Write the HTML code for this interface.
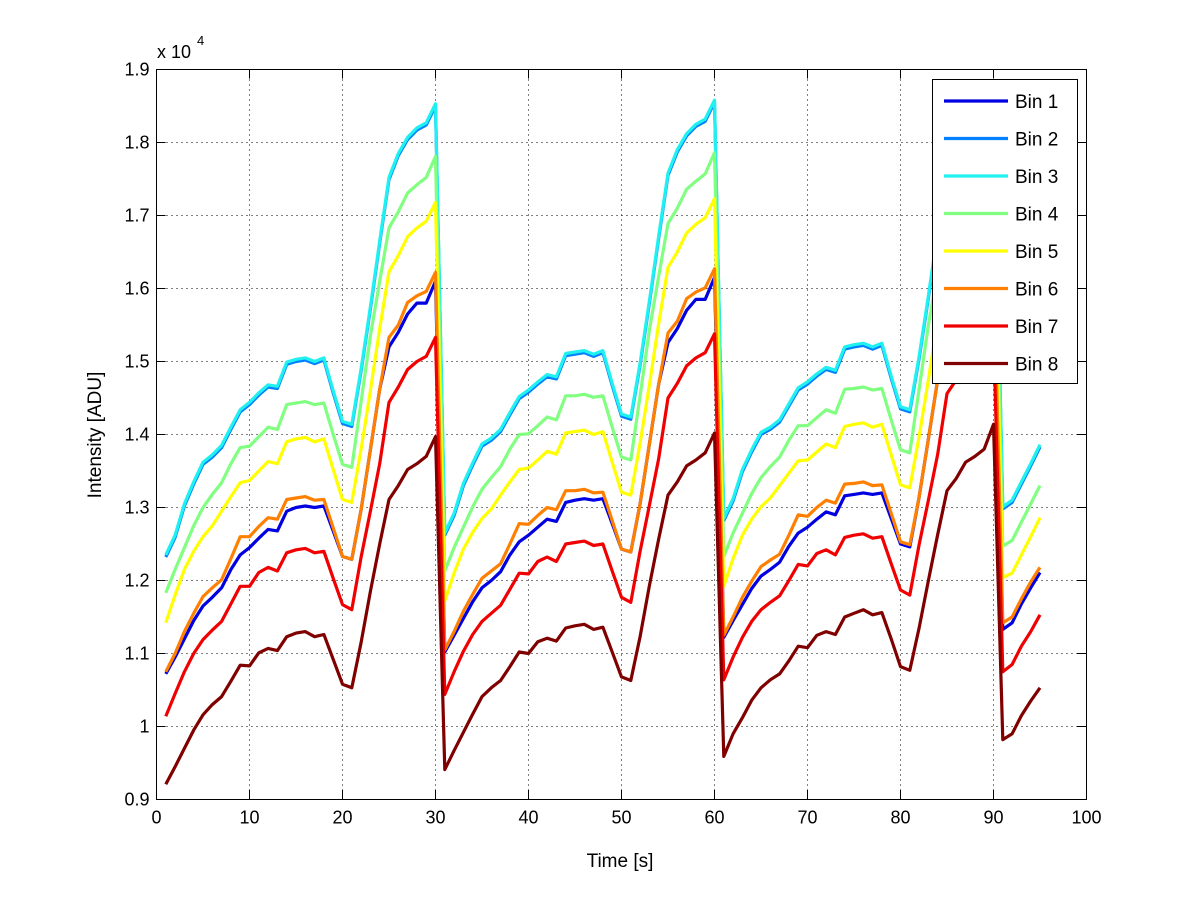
<!DOCTYPE html>
<html><head><meta charset="utf-8"><style>
body{margin:0;background:#fff;}
svg{display:block;font-family:"Liberation Sans",Arial,sans-serif;}
</style></head><body>
<svg id="chart" width="1200" height="901" viewBox="0 0 1200 901">
<rect x="0" y="0" width="1200" height="901" fill="#fff"/>
<g id="grid"></g>
<g id="series"></g>
<rect x="156.5" y="69.5" width="930" height="730" fill="none" stroke="#000" stroke-width="1"/>
<g id="axes"></g>
<text x="157" y="58" font-size="18">x 10</text>
<text x="197" y="45" font-size="13">4</text>
<text x="620" y="867" font-size="19" text-anchor="middle">Time [s]</text>
<text transform="translate(101,435) rotate(-90)" font-size="19" text-anchor="middle">Intensity [ADU]</text>
<g id="legend"></g>
</svg>
<script>
const xTicks=[0,10,20,30,40,50,60,70,80,90,100];
const yTicks=[0.9,1.0,1.1,1.2,1.3,1.4,1.5,1.6,1.7,1.8,1.9];
const yTickLabels=["0.9","1","1.1","1.2","1.3","1.4","1.5","1.6","1.7","1.8","1.9"];
const binNames=["Bin 1","Bin 2","Bin 3","Bin 4","Bin 5","Bin 6","Bin 7","Bin 8"];
const binColors=["#0000e0","#0080ff","#20f0f0","#80ff80","#ffff00","#ff8000","#f00000","#800000"];
const bin1=[1.072,1.095,1.12,1.145,1.165,1.177,1.19,1.215,1.235,1.245,1.258,1.27,1.268,1.295,1.30,1.302,1.30,1.302,1.268,1.233,1.229,1.297,1.379,1.462,1.52,1.54,1.565,1.58,1.58,1.61,
1.102,1.125,1.148,1.171,1.19,1.20,1.212,1.235,1.253,1.262,1.273,1.284,1.281,1.307,1.31,1.312,1.31,1.312,1.278,1.243,1.239,1.305,1.387,1.469,1.526,1.545,1.57,1.585,1.585,1.615,
1.122,1.145,1.167,1.189,1.206,1.215,1.225,1.247,1.265,1.273,1.284,1.294,1.29,1.316,1.318,1.32,1.318,1.32,1.285,1.25,1.246,1.314,1.394,1.475,1.532,1.55,1.575,1.59,1.59,1.62,
1.133,1.142,1.168,1.19,1.211];
const bin2=[1.232,1.259,1.302,1.332,1.359,1.369,1.382,1.407,1.431,1.441,1.454,1.465,1.463,1.496,1.50,1.502,1.497,1.502,1.457,1.415,1.411,1.487,1.572,1.662,1.749,1.782,1.804,1.817,1.824,1.85,
1.262,1.289,1.33,1.358,1.384,1.392,1.404,1.427,1.449,1.458,1.469,1.479,1.476,1.508,1.51,1.512,1.507,1.512,1.467,1.425,1.421,1.495,1.58,1.669,1.755,1.787,1.809,1.822,1.829,1.855,
1.282,1.309,1.349,1.376,1.40,1.407,1.417,1.439,1.461,1.469,1.48,1.489,1.485,1.517,1.52,1.522,1.517,1.522,1.477,1.435,1.431,1.504,1.587,1.675,1.761,1.792,1.814,1.827,1.834,1.86,
1.298,1.307,1.332,1.357,1.383];
const bin3=[1.235,1.262,1.305,1.335,1.362,1.372,1.385,1.41,1.434,1.444,1.457,1.468,1.466,1.499,1.503,1.505,1.500,1.505,1.46,1.418,1.414,1.49,1.575,1.665,1.752,1.785,1.807,1.82,1.827,1.853,
1.265,1.292,1.333,1.361,1.387,1.395,1.407,1.43,1.452,1.461,1.472,1.482,1.479,1.511,1.513,1.515,1.51,1.515,1.47,1.428,1.424,1.498,1.583,1.672,1.758,1.79,1.812,1.825,1.832,1.858,
1.285,1.312,1.352,1.379,1.403,1.41,1.42,1.442,1.464,1.472,1.483,1.492,1.488,1.52,1.523,1.525,1.52,1.525,1.48,1.438,1.434,1.507,1.59,1.678,1.764,1.795,1.817,1.83,1.837,1.863,
1.301,1.31,1.335,1.36,1.386];
const bin4=[1.183,1.215,1.245,1.275,1.30,1.318,1.334,1.36,1.382,1.384,1.397,1.41,1.407,1.441,1.443,1.445,1.441,1.443,1.40,1.359,1.355,1.445,1.535,1.61,1.683,1.705,1.731,1.742,1.752,1.781,
1.213,1.245,1.273,1.301,1.325,1.341,1.356,1.38,1.40,1.401,1.412,1.424,1.42,1.453,1.453,1.455,1.451,1.453,1.41,1.369,1.365,1.453,1.543,1.617,1.689,1.71,1.736,1.747,1.757,1.786,
1.233,1.265,1.292,1.319,1.341,1.356,1.369,1.392,1.412,1.412,1.423,1.434,1.429,1.462,1.463,1.465,1.461,1.463,1.42,1.379,1.375,1.462,1.55,1.623,1.695,1.715,1.741,1.752,1.762,1.791,
1.247,1.255,1.28,1.305,1.33];
const bin5=[1.142,1.18,1.215,1.24,1.26,1.275,1.295,1.315,1.334,1.337,1.35,1.363,1.36,1.39,1.394,1.396,1.39,1.394,1.352,1.311,1.307,1.38,1.46,1.545,1.623,1.645,1.671,1.683,1.692,1.718,
1.172,1.21,1.243,1.266,1.285,1.298,1.317,1.335,1.352,1.354,1.365,1.377,1.373,1.402,1.404,1.406,1.40,1.404,1.362,1.321,1.317,1.388,1.468,1.552,1.629,1.65,1.676,1.688,1.697,1.723,
1.192,1.23,1.262,1.284,1.301,1.313,1.33,1.347,1.364,1.365,1.376,1.387,1.382,1.411,1.414,1.416,1.41,1.414,1.372,1.331,1.327,1.397,1.475,1.558,1.635,1.655,1.681,1.693,1.702,1.728,
1.204,1.21,1.235,1.26,1.286];
const bin6=[1.075,1.10,1.13,1.155,1.178,1.19,1.201,1.23,1.26,1.26,1.274,1.286,1.284,1.311,1.313,1.315,1.31,1.311,1.272,1.233,1.229,1.297,1.379,1.462,1.533,1.55,1.581,1.59,1.596,1.622,
1.105,1.13,1.158,1.181,1.203,1.213,1.223,1.25,1.278,1.277,1.289,1.30,1.297,1.323,1.323,1.325,1.32,1.321,1.282,1.243,1.239,1.305,1.387,1.469,1.539,1.555,1.586,1.595,1.601,1.627,
1.125,1.15,1.177,1.199,1.219,1.228,1.236,1.262,1.29,1.288,1.30,1.31,1.306,1.332,1.333,1.335,1.33,1.331,1.292,1.253,1.249,1.314,1.394,1.475,1.545,1.56,1.591,1.60,1.606,1.632,
1.142,1.15,1.175,1.198,1.218];
const bin7=[1.014,1.045,1.075,1.10,1.119,1.132,1.144,1.168,1.192,1.192,1.211,1.218,1.213,1.238,1.242,1.244,1.238,1.24,1.203,1.167,1.160,1.232,1.295,1.36,1.444,1.465,1.489,1.50,1.507,1.533,
1.044,1.075,1.103,1.126,1.144,1.155,1.166,1.188,1.21,1.209,1.226,1.232,1.226,1.25,1.252,1.254,1.248,1.25,1.213,1.177,1.17,1.24,1.303,1.367,1.45,1.47,1.494,1.505,1.512,1.538,
1.064,1.095,1.122,1.144,1.16,1.17,1.179,1.20,1.222,1.22,1.237,1.242,1.235,1.259,1.262,1.264,1.258,1.26,1.223,1.187,1.18,1.249,1.31,1.373,1.456,1.475,1.499,1.51,1.517,1.543,
1.075,1.085,1.11,1.13,1.153];
const bin8=[0.921,0.945,0.97,0.995,1.016,1.03,1.041,1.062,1.084,1.083,1.101,1.107,1.104,1.123,1.128,1.130,1.123,1.126,1.092,1.058,1.053,1.115,1.185,1.25,1.311,1.33,1.352,1.36,1.37,1.397,
0.941,0.967,0.992,1.017,1.041,1.053,1.063,1.082,1.102,1.10,1.116,1.121,1.117,1.135,1.138,1.14,1.133,1.136,1.102,1.068,1.063,1.123,1.193,1.257,1.317,1.335,1.357,1.365,1.375,1.402,
0.959,0.99,1.012,1.036,1.053,1.064,1.072,1.09,1.11,1.108,1.125,1.13,1.126,1.15,1.155,1.16,1.153,1.156,1.12,1.082,1.077,1.135,1.2,1.263,1.323,1.34,1.362,1.37,1.38,1.414,
0.982,0.99,1.015,1.035,1.053];
const allBins=[bin1,bin2,bin3,bin4,bin5,bin6,bin7,bin8];

const NS="http://www.w3.org/2000/svg";
const L=156.5,R=1086.5,T=69.5,B=799.5;
function sx(v){return L+(v-0)/(100-0)*(R-L);}
function sy(v){return B-(v-0.9)/(1.9-0.9)*(B-T);}
function mk(tag,attrs,parent){const e=document.createElementNS(NS,tag);for(const k in attrs)e.setAttribute(k,attrs[k]);parent.appendChild(e);return e;}
const grid=document.getElementById('grid'),axes=document.getElementById('axes'),ser=document.getElementById('series'),leg=document.getElementById('legend');
xTicks.forEach((t,i)=>{
  const x=sx(t);
  if(i>0&&i<xTicks.length-1){const g=mk('line',{x1:x,x2:x,y1:T,y2:B,stroke:'#000','stroke-width':1,'stroke-dasharray':'1,4'},grid);
  
  }
  mk('line',{x1:x,x2:x,y1:B,y2:B-9,stroke:'#000'},axes);
  mk('line',{x1:x,x2:x,y1:T,y2:T+9,stroke:'#000'},axes);
  const tx=mk('text',{x:x,y:B+24,'font-size':18,'text-anchor':'middle'},axes);
  tx.textContent=String(t);
  
  
});
yTicks.forEach((t,i)=>{
  const y=sy(t);
  if(i>0&&i<yTicks.length-1){const g=mk('line',{x1:L,x2:R,y1:y,y2:y,stroke:'#000','stroke-width':1,'stroke-dasharray':'1,4'},grid);
  
  }
  mk('line',{x1:L,x2:L+9,y1:y,y2:y,stroke:'#000'},axes);
  mk('line',{x1:R,x2:R-9,y1:y,y2:y,stroke:'#000'},axes);
  const tx=mk('text',{x:L-7,y:y+6,'font-size':18,'text-anchor':'end'},axes);
  tx.textContent=yTickLabels[i];
  
  
});
allBins.forEach((arr,b)=>{
  const pts=arr.map((v,i)=>sx(i+1).toFixed(1)+','+sy(v).toFixed(1)).join(' ');
  const p=mk('polyline',{points:pts,fill:'none',stroke:binColors[b],'stroke-width':3.2,'stroke-linejoin':'round'},ser);
  
  
});
const box=mk('rect',{x:932.5,y:79.5,width:145,height:304,fill:'#fff',stroke:'#000','stroke-width':1},leg);


binNames.forEach((n,b)=>{
  const y=101+b*37.5;
  const ln=mk('line',{x1:944,x2:1008,y1:y,y2:y,stroke:binColors[b],'stroke-width':3.2},leg);
  
  
  const tx=mk('text',{x:1015,y:y+7,'font-size':19},leg);
  tx.textContent=n;
  
  
});
</script>
</body></html>
